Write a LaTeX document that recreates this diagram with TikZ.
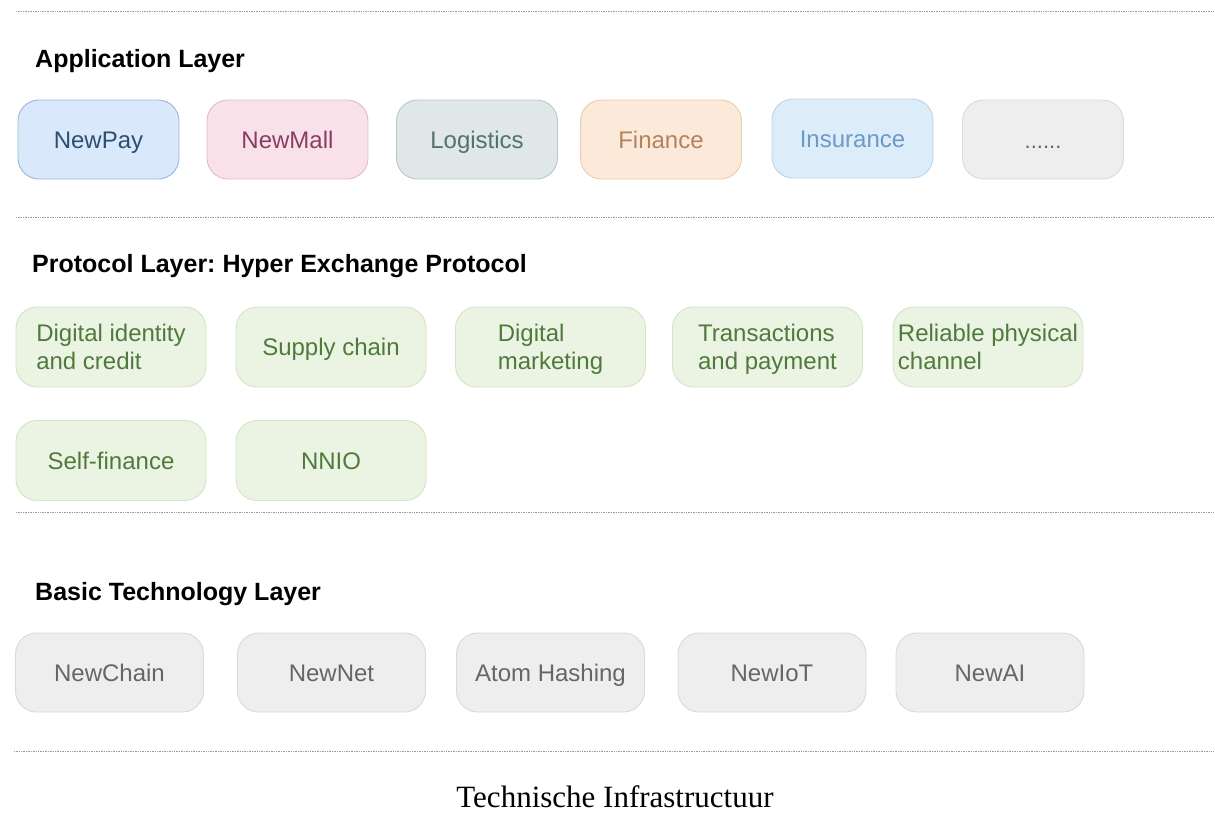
\documentclass[tikz,border=0pt]{standalone}
\usepackage{fontspec}
\setmainfont{Liberation Serif}
\setsansfont{Liberation Sans}
\newfontfamily\boxfont{Liberation Sans}
\frenchspacing
\definecolor{bluefill}{HTML}{DAE8FC}\definecolor{bluedraw}{HTML}{9DB5D6}\definecolor{bluetext}{HTML}{2E4E70}
\definecolor{pinkfill}{HTML}{F9E1EA}\definecolor{pinkdraw}{HTML}{E3B9C9}\definecolor{pinktext}{HTML}{8A3D62}
\definecolor{logfill}{HTML}{DFE7E9}\definecolor{logdraw}{HTML}{B7C8CB}\definecolor{logtext}{HTML}{53716F}
\definecolor{finfill}{HTML}{FBE9DA}\definecolor{findraw}{HTML}{ECCBAB}\definecolor{fintext}{HTML}{B5835A}
\definecolor{insfill}{HTML}{DDECF9}\definecolor{insdraw}{HTML}{BCD3E8}\definecolor{instext}{HTML}{6B9AC4}
\definecolor{grayfill}{HTML}{EEEEEE}\definecolor{graydraw}{HTML}{D9D9D9}\definecolor{graytext}{HTML}{666666}
\definecolor{greenfill}{HTML}{EBF4E3}\definecolor{greendraw}{HTML}{D4E4C6}\definecolor{greentext}{HTML}{4F7A3C}
\definecolor{sepline}{HTML}{9A9A9A}
\newcommand{\nodepth}[1]{\raisebox{0pt}[\height][0pt]{#1}}
\tikzset{
  card/.style={rounded corners=21pt, line width=0.9pt, inner sep=0pt, align=left,
    font=\boxfont\fontsize{24}{28}\selectfont},
  oneline/.style={text height=17.2pt, text depth=0pt},
  appcard/.style={card, oneline, minimum width=161pt, minimum height=79pt},
  protocard/.style={card, minimum width=190pt, minimum height=80pt, fill=greenfill, draw=greendraw, text=greentext},
  basecard/.style={card, oneline, minimum width=188pt, minimum height=79pt, fill=grayfill, draw=graydraw, text=graytext},
  heading/.style={anchor=base west, inner sep=0pt, font=\sffamily\bfseries\fontsize{25}{29}\selectfont},
  sep/.style={draw=sepline, line width=0.8pt, dash pattern=on 0.6pt off 1.1pt}
}
\begin{document}
\begin{tikzpicture}[x=1pt,y=-1pt]
\useasboundingbox (0,0) rectangle (1215,812);
% separators
\coordinate (s1a) at (16,11);  \coordinate (s1b) at (1213,11);
\coordinate (s2a) at (16,217); \coordinate (s2b) at (1213,217);
\coordinate (s3a) at (16,512); \coordinate (s3b) at (1213,512);
\coordinate (s4a) at (14,751); \coordinate (s4b) at (1213,751);
\draw[sep] (s1a) -- (s1b);
\draw[sep] (s2a) -- (s2b);
\draw[sep] (s3a) -- (s3b);
\draw[sep] (s4a) -- (s4b);
% headings
\node[heading] (happ) at (35,67) {Application Layer};
\node[heading] (hpro) at (32,272) {Protocol Layer: Hyper Exchange Protocol};
\node[heading] (hbas) at (35,600) {Basic Technology Layer};
% application layer
\node[appcard, fill=bluefill, draw=bluedraw, text=bluetext] (newpay) at (98.5,139.5) {NewPay};
\node[appcard, fill=pinkfill, draw=pinkdraw, text=pinktext] (newmall) at (287.5,139.5) {NewMall};
\node[appcard, fill=logfill, draw=logdraw, text=logtext] (logistics) at (477,139.5) {Logistics};
\node[appcard, fill=finfill, draw=findraw, text=fintext] (finance) at (661,139.5) {Finance};
\node[appcard, fill=insfill, draw=insdraw, text=instext] (insurance) at (852.5,138.5) {Insurance};
\node[appcard, fill=grayfill, draw=graydraw, text=graytext, font=\boxfont\fontsize{22}{26}\selectfont] (more) at (1043,139.5) {......};
% protocol layer
\node[protocard] (ident) at (111,347) {Digital identity\\\nodepth{and credit}};
\node[protocard, oneline] (supply) at (331,347) {Supply chain};
\node[protocard] (market) at (550.5,347) {Digital\\\nodepth{marketing}};
\node[protocard] (trans) at (767.5,347) {Transactions\\\nodepth{and payment}};
\node[protocard] (phys) at (988,347) {Reliable physical\\\nodepth{channel}};
\node[protocard, oneline] (self) at (111,460.5) {Self-finance};
\node[protocard, oneline] (nnio) at (331,460.5) {NNIO};
% basic technology layer
\node[basecard] (chain) at (109.5,672.5) {NewChain};
\node[basecard] (net) at (331.5,672.5) {NewNet};
\node[basecard] (atom) at (550.5,672.5) {Atom Hashing};
\node[basecard] (iot) at (772,672.5) {NewIoT};
\node[basecard] (ai) at (990,672.5) {NewAI};
% caption
\node[anchor=base, inner sep=0pt, font=\rmfamily\fontsize{31}{36}\selectfont] (caption) at (615,807) {Technische Infrastructuur};
\end{tikzpicture}
\end{document}
